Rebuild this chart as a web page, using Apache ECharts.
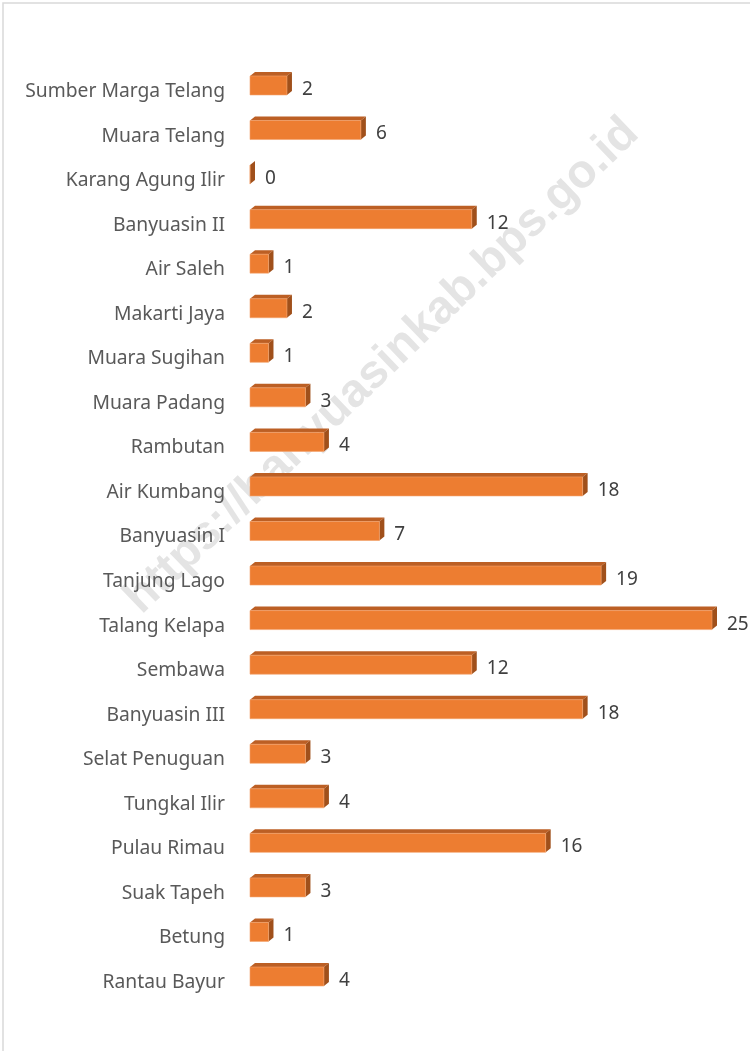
<!DOCTYPE html>
<html>
<head>
<meta charset="utf-8">
<script src="https://cdn.jsdelivr.net/npm/echarts@6/dist/echarts.min.js"></script>
<style>
  html, body { margin: 0; padding: 0; background: #fff; }
  #chart { width: 750px; height: 1051px; }
</style>
</head>
<body>
<div id="chart"></div>
<script>
var categories = [
    'Sumber Marga Telang', 'Muara Telang', 'Karang Agung Ilir', 'Banyuasin II',
    'Air Saleh', 'Makarti Jaya', 'Muara Sugihan', 'Muara Padang', 'Rambutan',
    'Air Kumbang', 'Banyuasin I', 'Tanjung Lago', 'Talang Kelapa', 'Sembawa',
    'Banyuasin III', 'Selat Penuguan', 'Tungkal Ilir', 'Pulau Rimau',
    'Suak Tapeh', 'Betung', 'Rantau Bayur'
];
var values = [2, 6, 0, 12, 1, 2, 1, 3, 4, 18, 7, 19, 25, 12, 18, 3, 4, 16, 3, 1, 4];
var watermark = 'https://banyuasinkab.bps.go.id';

document.addEventListener('DOMContentLoaded', function () {
    var chart = echarts.init(document.getElementById('chart'));

    // 3D-looking bar: front face + top face + right side face
    function renderItem(params, api) {
        var idx = api.value(0);
        var v = api.value(1);
        var p0 = api.coord([0, idx]);
        var p1 = api.coord([v, idx]);
        var h = 19, dx = 5, dy = 4;
        var x0 = p0[0], x1 = p1[0];
        var top = p0[1] - h / 2, bot = p0[1] + h / 2;
        return {
            type: 'group',
            children: [
                {
                    type: 'polygon',
                    shape: { points: [[x0, top], [x0 + dx, top - dy], [x1 + dx, top - dy], [x1, top]] },
                    style: { fill: '#BC5F24' }
                },
                {
                    type: 'polygon',
                    shape: { points: [[x1, top], [x1 + dx, top - dy], [x1 + dx, bot - dy], [x1, bot]] },
                    style: { fill: '#A0501B' }
                },
                {
                    type: 'rect',
                    shape: { x: x0, y: top, width: x1 - x0, height: h },
                    style: { fill: '#ED7D31', stroke: '#F4A26B', lineWidth: 0.6 }
                },
                {
                    type: 'text',
                    style: {
                        x: x1 + dx + 10,
                        y: p0[1] + 4,
                        text: String(v),
                        fill: '#404040',
                        font: '19px "Noto Sans"',
                        verticalAlign: 'middle',
                        align: 'left'
                    }
                }
            ]
        };
    }

    var option = {
        animation: false,
        graphic: [
            {
                type: 'rect',
                shape: { x: 3, y: 3, width: 800, height: 1100 },
                style: { fill: null, stroke: '#d9d9d9', lineWidth: 1.5 },
                silent: true,
                z: -10
            },
            {
                type: 'text',
                x: 382,
                y: 366,
                rotation: 0.765,
                z: -5,
                silent: true,
                style: {
                    text: watermark,
                    fill: '#e4e4e4',
                    font: 'bold 47px "Liberation Sans"',
                    align: 'center',
                    verticalAlign: 'middle'
                }
            }
        ],
        grid: {
            left: 250,
            right: 38,
            top: 63.2,
            bottom: 52.2
        },
        xAxis: {
            type: 'value',
            min: 0,
            max: 25,
            show: false
        },
        yAxis: {
            type: 'category',
            data: categories,
            inverse: true,
            axisLine: { show: false },
            axisTick: { show: false },
            axisLabel: {
                margin: 25,
                color: '#595959',
                fontSize: 19.3,
                fontFamily: 'Noto Sans',
                verticalAlign: 'top',
                lineHeight: 12
            }
        },
        series: [
            {
                type: 'custom',
                renderItem: renderItem,
                encode: { x: 1, y: 0 },
                data: values.map(function (v, i) { return [i, v]; })
            }
        ]
    };
    chart.setOption(option);
    window.addEventListener('resize', function () {
        chart.resize();
    });
});
</script>
</body>
</html>
